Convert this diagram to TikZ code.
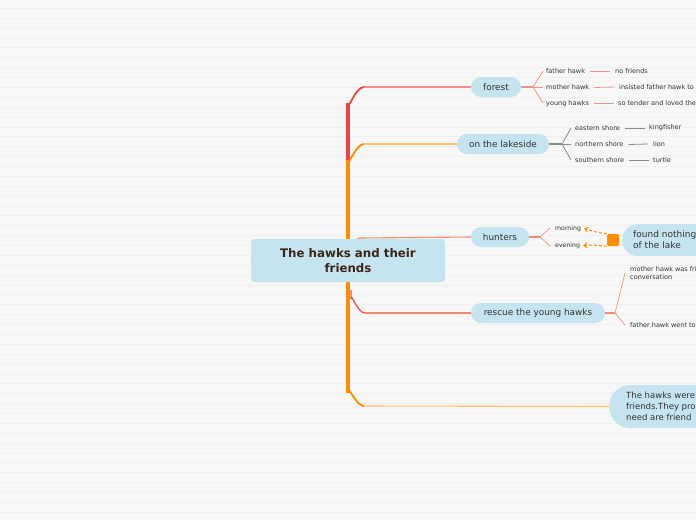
\documentclass[tikz,border=0pt]{standalone}
\usepackage{fontspec}
\setmainfont{DejaVu Sans}
\usetikzlibrary{arrows.meta}
\definecolor{bg}{HTML}{F7F7F7}
\definecolor{stripe}{HTML}{F0F0F0}
\definecolor{nodefill}{HTML}{C5E4F0}
\definecolor{redb}{HTML}{E8474A}
\definecolor{orangeb}{HTML}{FF8C00}
\definecolor{lorange}{HTML}{FFC06A}
\definecolor{salmon}{HTML}{F39089}
\definecolor{coral}{HTML}{EF8C6E}
\definecolor{grayl}{HTML}{8A8A8A}
\definecolor{txt}{HTML}{333333}
\definecolor{titlec}{HTML}{3B2718}
\tikzset{
  pill/.style={draw=none, fill=nodefill, rounded corners=10pt, minimum height=20pt, inner xsep=0pt, inner ysep=0pt, font=\fontsize{8.9}{10}\selectfont, text=txt},
  small/.style={font=\fontsize{6.5}{7.6}\selectfont, text=txt, inner sep=0pt, anchor=west, align=left},
  sline/.style={salmon, line width=0.8pt},
  gline/.style={grayl, line width=0.8pt},
}
\begin{document}
\begin{tikzpicture}[x=1pt,y=-1pt]
\clip (0,0) rectangle (696,520);
\fill[bg] (0,0) rectangle (696,520);
\foreach \i in {0,...,52} \draw[stripe, line width=0.7pt] (0,{8.3+9.88*\i}) -- (696,{8.3+9.88*\i});

% nodes
\node[pill, minimum width=50pt] (forest) at (496,87) {forest};
\node[pill, minimum width=92pt] (lake) at (503,144) {on the lakeside};
\node[pill, minimum width=58pt] (hunt) at (500,237) {hunters};
\node[pill, minimum width=134pt] (resc) at (538,313) {rescue the young hawks};
\node[fill=nodefill, rounded corners=16pt, minimum width=120pt, minimum height=32pt, anchor=west, inner sep=0pt] (found) at (622,240) {};
\node[small, font=\fontsize{9}{11}\selectfont] (foundt) at (633,240) {found nothing\\of the lake};
\node[fill=nodefill, rounded corners=21pt, minimum width=140pt, minimum height=43pt, anchor=west, inner sep=0pt] (fin) at (609,406.5) {};
\node[small, font=\fontsize{8.5}{11}\selectfont] (fint) at (626,406.5) {The hawks were\\friends.They pro\\need are friend};

% trunk branches
\draw[redb, line width=3.2pt] (348,175) -- (348,103);
\draw[redb, line width=1.8pt] (348,103) to[out=-90,in=180] (364,87);
\draw[salmon, line width=1.1pt] (364,87) -- (forest.west);
\draw[orangeb, line width=3.6pt] (348,160) -- (348,393);
\draw[orangeb, line width=1.8pt] (348,160) to[out=-90,in=180] (364,144);
\draw[lorange, line width=1.1pt] (364,144) -- (lake.west);
\draw[orangeb, line width=1.8pt] (348,392) to[out=90,in=180] (364,406);
\draw[lorange, line width=1.1pt] (364,406) -- (fin.west);
\draw[coral, line width=1.1pt] (350,245) to[out=-90,in=180] (360,238) -- (hunt.west);
\draw[redb!80!orange, line width=1.3pt] (351,290) -- (351,299) to[out=90,in=180] (365,313);
\draw[coral, line width=1.1pt] (365,313) -- (resc.west);

% central node
\node[fill=nodefill, rounded corners=3pt, minimum width=194pt, minimum height=43pt, align=center, font=\bfseries\fontsize{11.8}{15}\selectfont, text=titlec] (main) at (348,260.5) {The hawks and their\\friends};

% forest children
\node[small] (fh) at (546,71) {father hawk};
\node[small] (mh) at (546,87.5) {mother hawk};
\node[small] (yh) at (546,103.5) {young hawks};
\node[small] (nf) at (615,71) {no friends};
\node[small] (ins) at (619,87) {insisted father hawk to};
\node[small] (st) at (618,103.5) {so tender and loved the};
\draw[sline, line width=1.4pt] (forest.east) -- (533,87);
\draw[sline] (533,87) -- (543,71);
\draw[sline] (533,87) -- (543,87);
\draw[sline] (533,87) -- (543,103);
\draw[sline] ([xshift=5pt]fh.east) -- ([xshift=-5pt]nf.west);
\draw[sline] ([xshift=5pt]mh.east) -- ([xshift=-5pt]ins.west);
\draw[sline] ([xshift=5pt]yh.east) -- ([xshift=-4pt]st.west);

% lakeside children
\node[small] (es) at (575,128) {eastern shore};
\node[small] (ns) at (575,144.5) {northern shore};
\node[small] (ss) at (575,160.5) {southern shore};
\node[small] (kf) at (649,128) {kingfisher};
\node[small] (li) at (653,144) {lion};
\node[small] (tu) at (653,160.5) {turtle};
\draw[gline, line width=1.6pt] (lake.east) -- (562,144);
\draw[gline] (562,144) -- (571,128);
\draw[gline] (562,144) -- (571,144);
\draw[gline] (562,144) -- (571,160);
\draw[gline] ([xshift=5pt]es.east) -- ([xshift=-4pt]kf.west);
\draw[gline] ([xshift=5pt]ns.east) -- ([xshift=-5pt]li.west);
\draw[gline] ([xshift=5pt]ss.east) -- ([xshift=-4pt]tu.west);

% hunters children
\node[small, font=\fontsize{6.2}{7}\selectfont] (mo) at (555,228.5) {morning};
\node[small, font=\fontsize{6.2}{7}\selectfont] (ev) at (555,245.5) {evening};
\draw[coral, line width=1.3pt] (hunt.east) -- (540,237);
\draw[coral, line width=0.6pt] (540,237) -- (550,228);
\draw[coral, line width=0.6pt] (540,237) -- (550,246);
\node[fill=orangeb, rounded corners=1.5pt, minimum size=12pt, inner sep=0pt] (sq) at (613,240) {};
\draw[orangeb, line width=1pt, dash pattern=on 3pt off 2pt, -{Straight Barb[length=3pt,width=5pt]}] (sq.north west) to[bend left=5] ([xshift=3pt]mo.east);
\draw[orangeb, line width=1pt, dash pattern=on 3pt off 2pt, -{Straight Barb[length=3pt,width=5pt]}] (sq.south west) to[bend right=5] ([xshift=3pt]ev.east);

% rescue children
\node[small] (mw) at (630,273) {mother hawk was friendly\\conversation};
\node[small] (fw) at (630,325.5) {father hawk went to};
\draw[coral, line width=1.3pt] (resc.east) -- (615,313);
\draw[coral, line width=0.6pt] (615,313) -- (625,273);
\draw[coral, line width=0.6pt] (615,313) -- (625,325);
\end{tikzpicture}
\end{document}
